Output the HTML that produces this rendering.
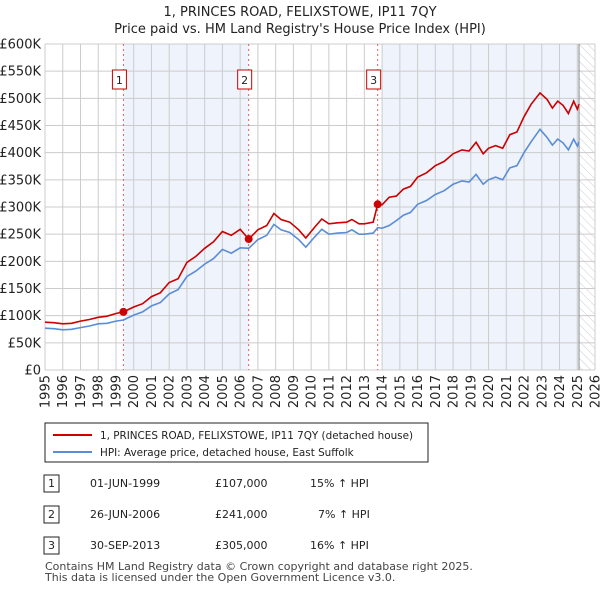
<!DOCTYPE html>
<html><head><meta charset="utf-8"><style>
body{margin:0;background:#fff;font-family:"Liberation Sans","DejaVu Sans",sans-serif;}
svg text{font-family:"DejaVu Sans","Liberation Sans",sans-serif;}
</style></head><body>
<svg id="c" width="600" height="590" viewBox="0 0 600 590" xmlns="http://www.w3.org/2000/svg">
<text x="300" y="16" text-anchor="middle" font-size="13" fill="#222">1, PRINCES ROAD, FELIXSTOWE, IP11 7QY</text>
<text x="300" y="33" text-anchor="middle" font-size="13" fill="#222">Price paid vs. HM Land Registry's House Price Index (HPI)</text>
<defs><pattern id="hatch" width="6" height="6" patternUnits="userSpaceOnUse" patternTransform="rotate(-45)"><line x1="0" y1="0" x2="0" y2="6" stroke="#ccc" stroke-width="1"/></pattern></defs>
<g id="plot"></g>
<g>
<rect x="45" y="423" width="383" height="39" fill="#fff" stroke="#222" stroke-width="1"/>
<line x1="53" y1="435" x2="92" y2="435" stroke="#cc0000" stroke-width="2"/>
<text x="100" y="439" font-size="10.4" fill="#222">1, PRINCES ROAD, FELIXSTOWE, IP11 7QY (detached house)</text>
<line x1="53" y1="452" x2="92" y2="452" stroke="#5b8dd6" stroke-width="2"/>
<text x="100" y="456" font-size="10.4" fill="#222">HPI: Average price, detached house, East Suffolk</text>
</g>
<g font-size="11" fill="#222">
<rect x="44" y="475" width="15" height="17" fill="#fff" stroke="#222"/><text x="51.5" y="487" text-anchor="middle">1</text>
<text x="90" y="487">01-JUN-1999</text><text x="215" y="487">£107,000</text><text x="310" y="487">15% ↑ HPI</text>
<rect x="44" y="506" width="15" height="17" fill="#fff" stroke="#222"/><text x="51.5" y="518" text-anchor="middle">2</text>
<text x="90" y="518">26-JUN-2006</text><text x="215" y="518">£241,000</text><text x="318" y="518">7% ↑ HPI</text>
<rect x="44" y="537" width="15" height="17" fill="#fff" stroke="#222"/><text x="51.5" y="549" text-anchor="middle">3</text>
<text x="90" y="549">30-SEP-2013</text><text x="215" y="549">£305,000</text><text x="310" y="549">16% ↑ HPI</text>
</g>
<text x="45" y="570" font-size="11" fill="#444">Contains HM Land Registry data © Crown copyright and database right 2025.</text>
<text x="45" y="581" font-size="11" fill="#444">This data is licensed under the Open Government Licence v3.0.</text>
</svg>
<script>
const years=[1995,1995.5,1996,1996.5,1997,1997.5,1998,1998.5,1999,1999.42,2000,2000.5,2001,2001.5,2002,2002.5,2003,2003.5,2004,2004.5,2005,2005.5,2006,2006.48,2007,2007.5,2007.9,2008.3,2008.8,2009.3,2009.7,2010.2,2010.6,2011,2011.5,2012,2012.3,2012.7,2013,2013.5,2013.75,2014,2014.4,2014.8,2015.2,2015.6,2016,2016.5,2017,2017.5,2018,2018.5,2018.9,2019.3,2019.7,2020,2020.4,2020.8,2021.2,2021.6,2022,2022.4,2022.9,2023.3,2023.6,2023.9,2024.2,2024.5,2024.8,2025.0,2025.1];
const hpiValues=[77,76,74,75,78,81,85,86,90,92,101,107,118,124,140,148,172,182,195,205,222,215,225,224,240,248,268,258,253,240,226,245,259,250,252,253,258,250,250,252,262,261,266,275,285,290,305,312,323,330,342,348,346,360,342,350,355,350,372,376,400,420,443,428,414,425,418,405,425,412,420];
const priceValues=[88,87,85,86,90,93,97,99,104,107,116,122,135,142,161,168,198,209,224,236,255,248,259,241,258,266,288,277,272,258,243,263,278,269,271,272,277,269,269,272,305,304,318,320,333,338,355,363,376,384,398,405,403,419,398,408,413,408,433,438,466,489,510,498,482,495,487,472,495,480,489];
const saleYears=[1999.42,2006.48,2013.75];
const salePrices=[107,241,305];
const saleLabels=["1","2","3"];
const yTicks=[0,50,100,150,200,250,300,350,400,450,500,550,600];
const xTicks=[1995,1996,1997,1998,1999,2000,2001,2002,2003,2004,2005,2006,2007,2008,2009,2010,2011,2012,2013,2014,2015,2016,2017,2018,2019,2020,2021,2022,2023,2024,2025,2026];
const X0=45,X1=595,Y0=370,Y1=44;
const xs=y=>X0+(y-1995)/(2026-1995)*(X1-X0);
const ys=v=>Y0-v/600*(Y0-Y1);
const NS="http://www.w3.org/2000/svg";
const g=document.getElementById('plot');
function mk(t,a){const e=document.createElementNS(NS,t);for(const k in a)e.setAttribute(k,a[k]);g.appendChild(e);return e;}
let e;
e=mk('rect',{x:xs(saleYears[0]),y:Y1,width:xs(saleYears[1])-xs(saleYears[0]),height:Y0-Y1,fill:'#eef3fc'});


e=mk('rect',{x:xs(2014.0),y:Y1,width:xs(2025.1)-xs(2014.0),height:Y0-Y1,fill:'#eef3fc'});


e=mk('rect',{x:xs(2025.1),y:Y1,width:X1-xs(2025.1),height:Y0-Y1,fill:'url(#hatch)'});


yTicks.forEach(v=>{
 e=mk('line',{x1:X0,x2:X1,y1:ys(v),y2:ys(v),stroke:'#cccccc','stroke-width':1});
 
 
 e=mk('text',{x:X0-4,y:ys(v)+4.5,'text-anchor':'end','font-size':'13',fill:'#222'});
 e.textContent=v===0?'£0':'£'+v+'K';
 
 
});
xTicks.forEach(yr=>{
 e=mk('line',{x1:xs(yr),x2:xs(yr),y1:Y1,y2:Y0,stroke:'#cccccc','stroke-width':1});
 
 
 e=mk('text',{x:0,y:0,'text-anchor':'end','font-size':'13',fill:'#222',transform:`translate(${xs(yr)+4.5},375) rotate(-90)`});
 e.textContent=String(yr);
 
 
});
e=mk('line',{x1:xs(2025.1),x2:xs(2025.1),y1:Y1,y2:Y0,stroke:'#888','stroke-width':1});


saleYears.forEach((yr,i)=>{
 e=mk('line',{x1:xs(yr),x2:xs(yr),y1:Y1,y2:Y0,stroke:'#e06060','stroke-width':1,'stroke-dasharray':'2,3'});
 
 
});
const pts=a=>a.map((v,i)=>xs(years[i]).toFixed(1)+','+ys(v).toFixed(1)).join(' ');
e=mk('polyline',{points:pts(hpiValues),fill:'none',stroke:'#5b8dd6','stroke-width':1.6});


e=mk('polyline',{points:pts(priceValues),fill:'none',stroke:'#cc0000','stroke-width':1.6});


saleYears.forEach((yr,i)=>{
 e=mk('circle',{cx:xs(yr),cy:ys(salePrices[i]),r:4,fill:'#cc0000'});
 
 
 e=mk('rect',{x:xs(yr)-7-4,y:70,width:14,height:19,fill:'#fff',stroke:'#cc0000','stroke-width':1});
 
 
 e=mk('text',{x:xs(yr)-4,y:84,'text-anchor':'middle','font-size':'11',fill:'#222'});
 e.textContent=saleLabels[i];
 
 
});
</script>
</body></html>
